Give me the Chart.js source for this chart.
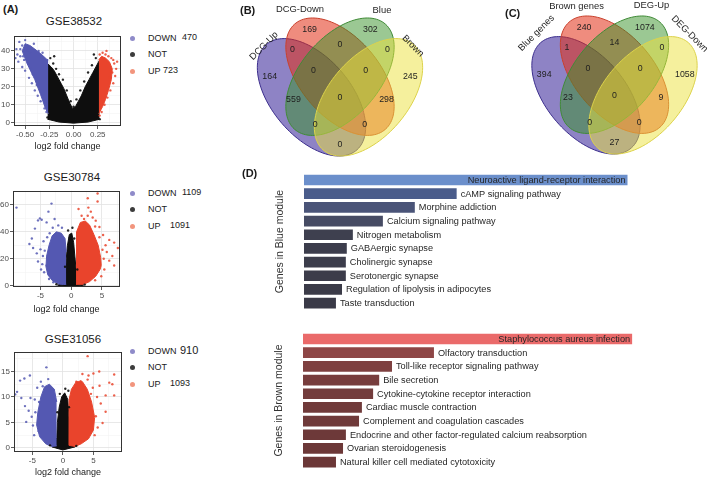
<!DOCTYPE html>
<html>
<head>
<meta charset="utf-8">
<title>Figure</title>
<script src="https://cdn.jsdelivr.net/npm/chart.js@4.4.1/dist/chart.umd.min.js"></script>
<style>
  body { margin: 0; background: #fff; }
  #fig { position: relative; width: 709px; height: 479px; overflow: hidden; background: #fff;
         font-family: "Liberation Sans", Arial, Helvetica, sans-serif; color: #1a1a1a; }
  #fig canvas { position: absolute; }
  .txt { position: absolute; white-space: nowrap; line-height: 1; }
  .panel { font-weight: bold; font-size: 11px; }
  .dot { position: absolute; width: 5px; height: 5px; border-radius: 50%; }
</style>
</head>
<body>
<div id="fig">
  <canvas id="vol1"></canvas>
  <canvas id="vol2"></canvas>
  <canvas id="vol3"></canvas>
  <canvas id="vennB"></canvas>
  <canvas id="vennC"></canvas>
  <canvas id="barBlue"></canvas>
  <canvas id="barBrown"></canvas>
</div>
<script>
// ---------- (A) volcano plots ----------
const volcanoTitles = ['GSE38532', 'GSE30784', 'GSE31056'];
const downCounts = [470, 1109, 910];
const upCounts = [723, 1091, 1093];
const legendNames = ['DOWN', 'NOT', 'UP'];

// GSE38532 (outlines of the dense clouds + scattered points)
const gse38532NotTop = [[-0.27,33],[-0.23,31],[-0.2,29],[-0.17,26],[-0.13,22],[-0.1,19],[-0.07,15],[-0.04,11],[-0.01,8],[0.02,9],[0.05,12],[0.08,15],[0.12,20],[0.16,24],[0.2,28],[0.23,31],[0.27,35]];
const gse38532NotBottom = [[-0.27,2],[-0.15,0.4],[0,-0.2],[0.15,0.4],[0.27,2]];
const gse38532DownTop = [[-0.53,40],[-0.5,44],[-0.45,43],[-0.4,41],[-0.34,38.5],[-0.28,35.5],[-0.26,35]];
const gse38532DownBottom = [[-0.53,40],[-0.48,33],[-0.4,24],[-0.34,15.6],[-0.29,8],[-0.26,5]];
const gse38532UpTop = [[0.26,35],[0.29,37],[0.33,36],[0.37,34],[0.4,30]];
const gse38532UpBottom = [[0.26,5],[0.3,9],[0.33,13],[0.36,18],[0.39,24],[0.4,30]];
const gse38532DownPts = [[-0.56,45],[-0.53,43],[-0.55,41],[-0.5,46],[-0.48,40],[-0.58,38],[-0.6,36],[-0.57,34],[-0.53,31],[-0.5,29],[-0.46,25],[-0.43,22],[-0.4,18],[-0.37,15],[-0.34,12],[-0.3,8],[-0.28,6],[-0.45,39],[-0.41,44],[-0.36,40],[-0.32,39],[-0.52,37],[-0.47,33],[-0.44,30],[-0.59,41],[-0.55,37],[-0.51,35],[-0.42,27],[-0.38,21]];
const gse38532UpPts = [[0.27,38],[0.3,39],[0.33,38],[0.36,37],[0.39,36],[0.42,33],[0.44,30],[0.43,26],[0.41,22],[0.38,18],[0.35,14],[0.32,10],[0.29,6],[0.27,4],[0.4,28],[0.37,25],[0.45,34],[0.41,35],[0.34,40]];
const gse38532NotPts = [[-0.24,36],[-0.21,33],[-0.18,30],[-0.15,27],[-0.11,24],[-0.07,18],[-0.03,12],[0.0,9],[0.03,13],[0.07,18],[0.11,23],[0.15,28],[0.19,32],[0.23,36],[-0.2,37],[0.21,38],[-0.27,3],[0.27,2]];

// GSE30784
const gse30784NotTop = [[-2.2,0.3],[-1.6,1.5],[-1.1,4],[-0.9,10],[-0.8,20],[-0.6,30],[-0.3,38],[0.1,39],[0.4,32],[0.6,22],[0.8,12],[1.0,5],[1.5,2],[2.0,0.3]];
const gse30784NotBottom = [[-2.2,0.3],[0,-1],[2.0,0.3]];
const gse30784DownTop = [[-4.1,14],[-4.0,22],[-3.6,30],[-3.1,37],[-2.4,40],[-1.6,39],[-1.0,35],[-0.8,25]];
const gse30784DownBottom = [[-4.1,14],[-3.8,8],[-3.0,3.5],[-2.0,1.2],[-1.2,0.8],[-0.8,1]];
const gse30784UpTop = [[0.8,1],[0.85,25],[0.9,40],[1.5,47],[2.3,48],[3.0,45],[3.7,38],[4.4,30],[4.8,21],[4.9,15]];
const gse30784UpBottom = [[0.8,1],[2.0,1],[3.0,3],[4.0,7],[4.7,12],[4.9,15]];
const gse30784DownPts = [[-8.9,58],[-3.2,61],[-3.7,55],[-5.1,50],[-4.8,49],[-5.4,48.5],[-4.0,47],[-2.7,49.5],[-2.1,44.8],[-5.9,42.4],[-6.4,35],[-6.2,28],[-4.6,22],[-5.4,18],[-4.0,15],[-3.5,39],[-4.5,33],[-5.0,27],[-4.4,10],[-3.6,5],[-2.9,2.5],[-6.8,31],[-3.0,43],[-1.5,43],[-4.7,16],[-4.3,26],[-3.9,36],[-5.6,24],[-4.9,12]];
const gse30784UpPts = [[2.7,65],[4.3,68.5],[4.3,62.5],[2.8,58],[1.2,57],[2.1,49.5],[2.7,52],[3.5,50.7],[4.0,48.3],[4.6,43.6],[5.2,37.6],[6.2,34],[7.0,32],[6.7,22],[6.2,18.6],[7.0,15],[5.1,26.7],[5.6,30],[5.4,12],[4.9,7],[3.9,4],[1.7,52],[3.2,55],[7.6,28],[5.3,20],[5.8,25],[4.6,36],[3.9,44]];
const gse30784NotPts = [[-0.5,41],[0.2,43],[-0.2,36],[0.5,35],[-1.0,14],[1.0,12],[-2.4,1],[2.2,0.8]];

// GSE31056
const gse31056NotTop = [[-1.8,0.2],[-1.3,0.8],[-1.0,2],[-0.9,5],[-0.6,8],[-0.2,10],[0.3,10.8],[0.8,9.5],[1.0,6],[1.1,2.5],[1.6,0.8],[2.0,0.2]];
const gse31056NotBottom = [[-1.8,0.2],[0,-0.4],[2.0,0.2]];
const gse31056DownTop = [[-4.3,4.5],[-4.1,7],[-3.6,10],[-3.0,12],[-2.2,12.5],[-1.4,11.5],[-1.0,9]];
const gse31056DownBottom = [[-4.3,4.5],[-3.8,2.2],[-2.8,0.8],[-1.8,0.3],[-1.0,0.4]];
const gse31056UpTop = [[1.0,0.5],[1.02,9.5],[1.4,11.5],[2.2,13],[3.2,13],[4.0,11.5],[4.7,9],[5.2,6]];
const gse31056UpBottom = [[1.0,0.5],[2.0,0.3],[3.0,0.8],[4.2,1.8],[5.0,3.5],[5.2,6]];
const gse31056DownPts = [[-7.0,13.2],[-6.3,13.6],[-5.4,14.2],[-7.5,11],[-6.8,9.8],[-7.8,10.5],[-6.2,8.2],[-5.6,7.3],[-5.1,6.1],[-4.6,9.5],[-4.2,11.8],[-3.6,13.0],[-2.7,15.8],[-4.9,4.4],[-4.0,3.3],[-3.3,12.1],[-6.0,5.1],[-2.4,13.5],[-4.5,7],[-3.9,9],[-4.7,2.5],[-5.3,9.8]];
const gse31056UpPts = [[4.05,18],[5.95,15],[4.2,14.2],[4.05,13.4],[8.4,14.4],[8.1,12.5],[7.0,10.3],[8.4,10.3],[6.2,8.7],[7.0,7.1],[5.4,6.2],[6.5,4.9],[4.9,11.8],[2.9,13.1],[3.2,14.5],[2.2,13],[5.6,10],[6.0,12.2],[5.2,2.5],[7.6,12.8],[5.0,14.6],[5.7,4],[4.6,10.6]];
const gse31056NotPts = [[0.9,11.2],[0.4,11.6],[-0.5,10.6],[1.0,8],[-0.9,7],[-2.1,0.5],[2.2,0.4]];

// ---------- (B) / (C) Venn diagrams ----------
// region order: A, B, C, D, AB, BC, CD, ABC, BCD, AC, ABCD, BD, ACD, ABD, AD
const vennBSets = ['DCG-Up', 'DCG-Down', 'Blue', 'Brown'];
const vennBCounts = [164, 169, 302, 245, 0, 0, 0, 0, 0, 559, 0, 298, 0, 0, 0];
const vennCSets = ['Blue genes', 'Brown genes', 'DEG-Up', 'DEG-Down'];
const vennCCounts = [394, 240, 1074, 1058, 1, 14, 0, 0, 0, 23, 0, 9, 0, 0, 27];

// ---------- (D) KEGG bars ----------
const blueTerms = ['Neuroactive ligand-receptor interaction', 'cAMP signaling pathway', 'Morphine addiction',
  'Calcium signaling pathway', 'Nitrogen metabolism', 'GABAergic synapse', 'Cholinergic synapse',
  'Serotonergic synapse', 'Regulation of lipolysis in adipocytes', 'Taste transduction'];
const blueScores = [10.13, 4.78, 3.47, 2.47, 1.53, 1.34, 1.31, 1.31, 1.19, 1.0];
const brownTerms = ['Staphylococcus aureus infection', 'Olfactory transduction', 'Toll-like receptor signaling pathway',
  'Bile secretion', 'Cytokine-cytokine receptor interaction', 'Cardiac muscle contraction',
  'Complement and coagulation cascades', 'Endocrine and other factor-regulated calcium reabsorption',
  'Ovarian steroidogenesis', 'Natural killer cell mediated cytotoxicity'];
const brownScores = [10.28, 4.09, 2.78, 2.38, 2.19, 1.84, 1.75, 1.34, 1.25, 1.03];

// ================= drawing =================
const FONT = '"Liberation Sans", Arial, Helvetica, sans-serif';
Chart.defaults.font.family = FONT;
Chart.defaults.color = '#222';

const fig = document.getElementById('fig');

function addText(text, x, y, size, opts) {
  const d = document.createElement('div');
  d.className = 'txt' + (opts && opts.cls ? ' ' + opts.cls : '');
  d.textContent = text;
  d.style.fontSize = size + 'px';
  d.style.top = (y - size * 0.5) + 'px';
  if (opts && opts.center) {
    d.style.left = (x - 60) + 'px';
    d.style.width = '120px';
    d.style.textAlign = 'center';
  } else {
    d.style.left = x + 'px';
  }
  fig.appendChild(d);
  return d;
}

function place(id, p) {
  const cv = document.getElementById(id);
  cv.width = p.w; cv.height = p.h;
  cv.style.left = p.x + 'px'; cv.style.top = p.y + 'px';
  return cv;
}

function xy(arr) { return arr.map(p => ({ x: p[0], y: p[1] })); }

function isMajor(v, major) { const r = v / major; return Math.abs(r - Math.round(r)) < 1e-6; }

function ticksEvery(scale, step) {
  const out = [];
  for (let k = Math.ceil(scale.min / step - 1e-9); k * step <= scale.max + 1e-9; k++) {
    out.push({ value: +(k * step).toFixed(6) });
  }
  scale.ticks = out;
}

const panelBorder = {
  id: 'panelBorder',
  afterDraw(chart) {
    const { ctx, chartArea: a } = chart;
    ctx.save();
    ctx.strokeStyle = '#333';
    ctx.lineWidth = 1;
    ctx.strokeRect(Math.round(a.left) + 0.5, Math.round(a.top) + 0.5,
      Math.round(a.right - a.left) - 1, Math.round(a.bottom - a.top) - 1);
    ctx.restore();
  }
};

const BLACK = 'rgb(14,14,14)';
const BLUE = 'rgb(84,88,178)';
const RED = 'rgb(233,68,44)';

function cloud(top, bottom, color, order) {
  return [
    { type: 'line', data: xy(top), fill: '+1', backgroundColor: color, borderColor: color,
      borderWidth: 1, pointRadius: 0, tension: 0, order },
    { type: 'line', data: xy(bottom), fill: false, backgroundColor: color, borderColor: color,
      borderWidth: 1, pointRadius: 0, tension: 0, order }
  ];
}
function pts(arr, color, order) {
  return { type: 'scatter', data: xy(arr), backgroundColor: color, pointRadius: 1.2,
    pointBorderWidth: 0, borderWidth: 0, order };
}

const volcanoData = [
  [gse38532NotTop, gse38532NotBottom, gse38532DownTop, gse38532DownBottom, gse38532UpTop, gse38532UpBottom, gse38532NotPts, gse38532DownPts, gse38532UpPts],
  [gse30784NotTop, gse30784NotBottom, gse30784DownTop, gse30784DownBottom, gse30784UpTop, gse30784UpBottom, gse30784NotPts, gse30784DownPts, gse30784UpPts],
  [gse31056NotTop, gse31056NotBottom, gse31056DownTop, gse31056DownBottom, gse31056UpTop, gse31056UpBottom, gse31056NotPts, gse31056DownPts, gse31056UpPts]
];

const volcanoLayout = [
  { id: 'vol1', box: { l: 14, r: 122, t: 32, b: 126 }, gap: 26, titleX: 74, titleY: 22,
    x: [-0.615, 0.49], y: [-1.8, 48.4], xStep: 0.125, xMajor: 0.25, dec: 2, yStep: 5, yMajor: 10,
    rows: [38, 54, 71], countX: [182, 0, 163], countSize: [9, 0, 9] },
  { id: 'vol2', box: { l: 13, r: 121, t: 187, b: 287 }, gap: 28, titleX: 72, titleY: 178,
    x: [-9.47, 7.95], y: [-1, 70.5], xStep: 2.5, xMajor: 5, dec: 0, yStep: 10, yMajor: 20,
    rows: [193, 209, 226], countX: [182, 0, 170], countSize: [9, 0, 9] },
  { id: 'vol3', box: { l: 14, r: 123, t: 348, b: 452 }, gap: 26, titleX: 73, titleY: 340,
    x: [-8.0, 9.68], y: [-0.8, 18.85], xStep: 2.5, xMajor: 5, dec: 0, yStep: 2.5, yMajor: 5,
    rows: [351, 367, 384], countX: [180, 0, 170], countSize: [11, 0, 9] }
];
const legendDotColors = ['#8f8bc9', '#3c3c3c', '#f2957d'];

volcanoLayout.forEach((L, i) => {
  const d = volcanoData[i];
  const top = L.box.t - 2;
  const cv = place(L.id, { x: 0, y: top, w: L.box.r + 3, h: L.box.b + L.gap - top });
  const datasets = [].concat(
    cloud(d[0], d[1], BLACK, 9),
    cloud(d[2], d[3], BLUE, 8),
    cloud(d[4], d[5], RED, 8),
    [pts(d[6], 'rgba(14,14,14,0.9)', 3), pts(d[7], 'rgba(84,88,178,0.85)', 2), pts(d[8], 'rgba(233,68,44,0.85)', 1)]
  );
  const gridOpts = (major) => ({
    color: c => isMajor(c.tick.value, major) ? '#e2e2e2' : '#f1f1f1',
    lineWidth: c => isMajor(c.tick.value, major) ? 0.8 : 0.5,
    tickColor: c => isMajor(c.tick.value, major) ? '#333' : 'rgba(0,0,0,0)',
    tickLength: 3, drawTicks: true
  });
  new Chart(cv, {
    type: 'scatter',
    data: { datasets },
    options: {
      responsive: false, animation: false,
      layout: { padding: { left: 0, right: 3, top: 2, bottom: 0 } },
      plugins: { legend: { display: false }, tooltip: { enabled: false } },
      scales: {
        x: {
          type: 'linear', min: L.x[0], max: L.x[1],
          afterBuildTicks: s => ticksEvery(s, L.xStep),
          afterFit: s => { s.height = L.gap; },
          grid: gridOpts(L.xMajor), border: { display: false },
          ticks: { autoSkip: false, maxRotation: 0, padding: 1, color: '#4d4d4d', font: { size: 8 },
            callback: v => isMajor(v, L.xMajor) ? v.toFixed(L.dec) : '' },
          title: { display: true, text: 'log2 fold change', color: '#1a1a1a', font: { size: 9 }, padding: 0 }
        },
        y: {
          type: 'linear', min: L.y[0], max: L.y[1],
          afterBuildTicks: s => ticksEvery(s, L.yStep),
          afterFit: s => { s.width = L.box.l; },
          grid: gridOpts(L.yMajor), border: { display: false },
          ticks: { autoSkip: false, padding: 1, color: '#4d4d4d', font: { size: 8 },
            callback: v => isMajor(v, L.yMajor) ? String(v) : '' }
        }
      }
    },
    plugins: [panelBorder]
  });

  addText(volcanoTitles[i], L.titleX, L.titleY, 11.5, { center: true });
  const counts = [downCounts[i], null, upCounts[i]];
  legendNames.forEach((name, k) => {
    const y = L.rows[k];
    const dot = document.createElement('div');
    dot.className = 'dot';
    dot.style.left = '130px'; dot.style.top = (y - 2.5) + 'px';
    dot.style.background = legendDotColors[k];
    fig.appendChild(dot);
    addText(name, 148, y, 9);
    if (counts[k] !== null) addText(String(counts[k]), L.countX[k], y - 0.5, L.countSize[k]);
  });
});

// ----- Venn diagrams (unit square layout, y up) -----
const vennRegionPos = [[0.13,0.57],[0.34,0.8],[0.66,0.8],[0.87,0.57],[0.25,0.7],[0.5,0.725],[0.75,0.7],
  [0.36,0.6],[0.635,0.6],[0.255,0.46],[0.5,0.47],[0.745,0.46],[0.37,0.34],[0.63,0.34],[0.5,0.24]];
const vennEllipses = [[0.35, 0.47, 135], [0.5, 0.57, 135], [0.5, 0.57, 45], [0.65, 0.47, 45]];
const vennSemiA = 0.35, vennSemiB = 0.2;
const vennFills = ['rgba(50,30,150,0.55)', 'rgba(225,45,20,0.55)', 'rgba(55,145,40,0.5)', 'rgba(235,225,60,0.5)'];
const vennStrokes = ['#3b2d8c', '#c8402c', '#3f8a36', '#dcd24a'];

const vennPlugin = {
  id: 'venn',
  beforeDatasetsDraw(chart) {
    const { ctx, scales: { x, y } } = chart;
    vennEllipses.forEach((e, i) => {
      const th = e[2] * Math.PI / 180;
      ctx.save();
      ctx.beginPath();
      for (let k = 0; k <= 120; k++) {
        const t = k / 120 * 2 * Math.PI;
        const ex = e[0] + vennSemiA * Math.cos(t) * Math.cos(th) - vennSemiB * Math.sin(t) * Math.sin(th);
        const ey = e[1] + vennSemiA * Math.cos(t) * Math.sin(th) + vennSemiB * Math.sin(t) * Math.cos(th);
        const px = x.getPixelForValue(ex), py = y.getPixelForValue(ey);
        if (k === 0) ctx.moveTo(px, py); else ctx.lineTo(px, py);
      }
      ctx.closePath();
      ctx.fillStyle = vennFills[i];
      ctx.fill();
      ctx.strokeStyle = vennStrokes[i];
      ctx.lineWidth = 1;
      ctx.stroke();
      ctx.restore();
    });
  },
  afterDatasetsDraw(chart) {
    const { ctx } = chart;
    ctx.save();
    ctx.fillStyle = '#1f1f1f';
    ctx.textAlign = 'center';
    ctx.textBaseline = 'middle';
    const regions = chart.getDatasetMeta(0);
    ctx.font = '8.8px ' + FONT;
    regions.data.forEach((p, i) => {
      ctx.fillText(String(chart.data.datasets[0].data[i].c), p.x, p.y);
    });
    const sets = chart.getDatasetMeta(1);
    ctx.font = '9.4px ' + FONT;
    sets.data.forEach((p, i) => {
      const s = chart.data.datasets[1].data[i];
      ctx.save();
      ctx.translate(p.x, p.y);
      ctx.rotate(s.rot * Math.PI / 180);
      ctx.fillText(s.name, 0, 0);
      ctx.restore();
    });
    ctx.restore();
  }
};

function vennChart(id, pos, xr, yr, counts, sets, labelPos) {
  const cv = place(id, pos);
  new Chart(cv, {
    type: 'scatter',
    data: {
      datasets: [
        { data: vennRegionPos.map((p, i) => ({ x: p[0], y: p[1], c: counts[i] })), pointRadius: 0 },
        { data: labelPos.map((p, i) => ({ x: p[0], y: p[1], rot: p[2], name: sets[i] })), pointRadius: 0 }
      ]
    },
    options: {
      responsive: false, animation: false,
      layout: { padding: 0 },
      plugins: { legend: { display: false }, tooltip: { enabled: false } },
      scales: {
        x: { display: false, min: xr[0], max: xr[1] },
        y: { display: false, min: yr[0], max: yr[1] }
      }
    },
    plugins: [vennPlugin]
  });
}

vennChart('vennB', { x: 230, y: 0, w: 222, h: 172 }, [-0.0789, 1.0895], [0.1074, 0.9423], vennBCounts, vennBSets,
  [[0.1, 0.719, -45], [0.289, 0.899, 0], [0.721, 0.894, 0], [0.884, 0.719, 45]]);
vennChart('vennC', { x: 500, y: 0, w: 209, h: 172 }, [-0.1026, 0.9974], [0.0977, 0.9326], vennCCounts, vennCSets,
  [[0.089, 0.772, -45], [0.3, 0.903, 0], [0.695, 0.908, 0], [0.895, 0.768, 45]]);

// ----- bar charts -----
const blueColors = ['#6b8fcb', '#4a5c8b', '#4a5478', '#464b63', '#3e404f', '#3c3d4c', '#3c3d4b', '#3c3c4a', '#3b3b48', '#3a3a47'];
const brownColors = ['#ea6a6a', '#8e4646', '#7e4040', '#773d3d', '#733c3c', '#703a3a', '#6f3a3a', '#6d3939', '#6c3838', '#6b3737'];

const barLabels = {
  id: 'barLabels',
  afterDatasetsDraw(chart) {
    const { ctx } = chart;
    const meta = chart.getDatasetMeta(0);
    ctx.save();
    ctx.font = '9.2px ' + FONT;
    ctx.fillStyle = '#262626';
    ctx.textBaseline = 'middle';
    meta.data.forEach((bar, i) => {
      const label = chart.data.labels[i];
      if (i === 0) { ctx.textAlign = 'right'; ctx.fillText(label, bar.x - 2, bar.y + 0.5); }
      else { ctx.textAlign = 'left'; ctx.fillText(label, bar.x + 4, bar.y + 0.5); }
    });
    ctx.restore();
  }
};

function barPanel(id, pos, terms, scores, colors, axisTitle) {
  const cv = place(id, pos);
  new Chart(cv, {
    type: 'bar',
    data: { labels: terms, datasets: [{ data: scores, backgroundColor: colors, borderWidth: 0,
      categoryPercentage: 1, barPercentage: 0.78 }] },
    options: {
      indexAxis: 'y', responsive: false, animation: false,
      layout: { padding: { top: pos.padTop, bottom: pos.padBottom, right: 2, left: 0 } },
      plugins: { legend: { display: false }, tooltip: { enabled: false } },
      scales: {
        x: { display: false, min: 0, max: 12.4 },
        y: {
          ticks: { display: false }, grid: { display: false, drawTicks: false }, border: { display: false },
          title: { display: true, text: axisTitle, font: { size: 10.5 }, color: '#333', padding: { top: 4, bottom: 0 } },
          afterFit: s => { s.width = 34; }
        }
      }
    },
    plugins: [barLabels]
  });
}

barPanel('barBlue', { x: 270, y: 170, w: 432, h: 142, padTop: 3.2, padBottom: 2.1 },
  blueTerms, blueScores, blueColors, 'Genes in Blue module');
barPanel('barBrown', { x: 269, y: 329, w: 433, h: 142, padTop: 3.2, padBottom: 2.1 },
  brownTerms, brownScores, brownColors, 'Genes in Brown module');

// panel letters
addText('(A)', 3, 9, 11, { cls: 'panel' });
addText('(B)', 240, 10, 11, { cls: 'panel' });
addText('(C)', 505, 13, 11, { cls: 'panel' });
addText('(D)', 242, 173, 11, { cls: 'panel' });
</script>
</body>
</html>
